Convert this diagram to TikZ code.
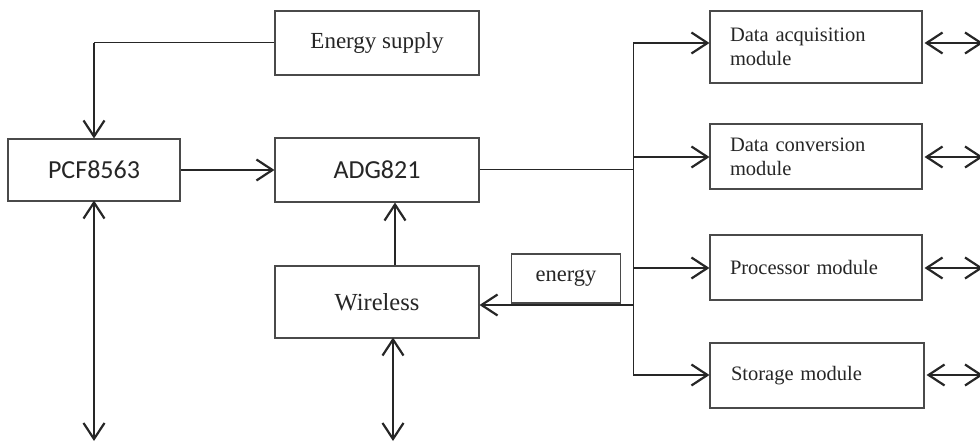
\documentclass[tikz,border=0pt]{standalone}
\usepackage{fontspec}
\usepackage{tikz}
\usetikzlibrary{arrows.meta}
\setmainfont{Liberation Serif}
\newfontfamily\calfont{Carlito}
\definecolor{lineink}{HTML}{262626}
\definecolor{boxink}{HTML}{4A4A4A}

\begin{document}
\begin{tikzpicture}[x=1pt,y=-1pt,
  box/.style={rectangle,draw=boxink,line width=1.1pt,fill=white,
    inner sep=0pt,align=center,text=lineink},
  modbox/.style={box,minimum width=212pt,minimum height=65pt,
    text width=172pt,align=left,font=\fontsize{20.5}{24}\selectfont},
  chipbox/.style={box,font=\calfont\fontsize{26}{30}\selectfont},
  arr/.style={-{Straight Barb[length=16pt,width=21pt]},line width=2.2pt,color=lineink},
  darr/.style={{Straight Barb[length=16pt,width=21pt]}-{Straight Barb[length=16pt,width=21pt]},
    line width=2.2pt,color=lineink},
  wire/.style={line width=1pt,color=lineink}
]
  \useasboundingbox (0,0) rectangle (980,443);

  \node[box,minimum width=204pt,minimum height=64pt,
    font=\fontsize{23}{27}\selectfont] (supply) at (377,43) {Energy supply};
  \node[chipbox,minimum width=172pt,minimum height=62pt] (pcf) at (94,170) {PCF8563};
  \node[chipbox,minimum width=204pt,minimum height=64pt] (adg) at (377,170) {ADG821};
  \node[box,minimum width=204pt,minimum height=72pt,
    font=\fontsize{24.5}{28}\selectfont] (wl) at (377,302) {Wireless};
  \node[box,minimum width=109pt,minimum height=49pt,
    font=\fontsize{22.5}{26}\selectfont] (en) at (566,278.5) {energy};

  \node[modbox,minimum height=72pt] (acq)  at (816,47)    {Data acquisition\\module};
  \node[modbox] (conv) at (816,156.5) {Data conversion\\module};
  \node[modbox] (proc) at (816,267.5) {Processor module};
  \node[modbox,minimum width=214pt] (stor) at (817,375.5) {Storage module};

  % bus on the right
  \coordinate (b1) at (633,43);
  \coordinate (b2) at (633,157);
  \coordinate (b3) at (633,268);
  \coordinate (b4) at (633,375);
  \coordinate (bw) at (633,305);
  \coordinate (ba) at (633,170);
  \coordinate (c1) at (pcf.north |- supply.west);
  \coordinate (p1) at (94,441);
  \coordinate (w1) at (393,441);

  \draw[wire] (b1) -- (b4);
  \draw[wire] (supply.west) -- (c1);
  \draw[arr] (c1) -- (pcf.north);
  \draw[arr] (pcf.east) -- (adg.west);
  \draw[darr] ([yshift=1pt]pcf.south) -- (p1);
  \draw[arr] ([xshift=18pt]wl.north) -- ([xshift=18pt]adg.south);
  \draw[darr] ([xshift=16pt,yshift=1pt]wl.south) -- (w1);
  \draw[wire] (adg.east) -- (ba);
  \draw[arr] (bw) -- (bw -| wl.east);

  \draw[arr] (b1) -- (b1 -| acq.west);
  \draw[arr] (b2) -- (b2 -| conv.west);
  \draw[arr] (b3) -- (b3 -| proc.west);
  \draw[arr] (b4) -- (b4 -| stor.west);

  \draw[darr] ([xshift=2pt]b1 -| acq.east) -- (983,43);
  \draw[darr] ([xshift=2pt]b2 -| conv.east) -- (983,157);
  \draw[darr] ([xshift=2pt]b3 -| proc.east) -- (983,268);
  \draw[darr] ([xshift=2pt]b4 -| stor.east) -- (983,375);
\end{tikzpicture}
\end{document}
